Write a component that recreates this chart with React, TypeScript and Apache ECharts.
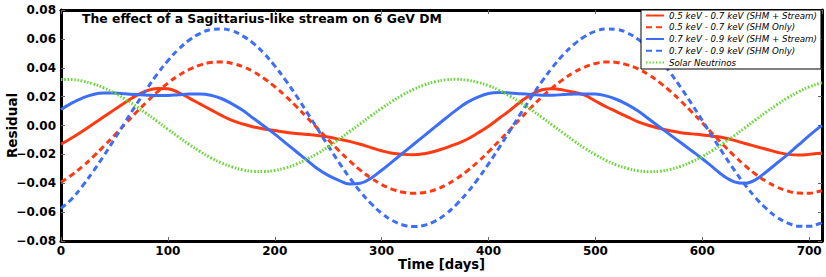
import React, { useEffect, useRef } from "react";
import * as echarts from "echarts";

const days = [0, 10, 20, 30, 40, 50, 60, 70, 80, 90, 100, 110, 120, 130, 140, 150, 160, 170, 180, 190, 200, 210, 220, 230, 240, 250, 260, 270, 280, 290, 300, 310, 320, 330, 340, 350, 360, 370, 380, 390, 400, 410, 420, 430, 440, 450, 460, 470, 480, 490, 500, 510, 520, 530, 540, 550, 560, 570, 580, 590, 600, 610, 620, 630, 640, 650, 660, 670, 680, 690, 700, 710, 712];

const lowStream = [-0.013, -0.0087, -0.004, 0.001, 0.006, 0.011, 0.016, 0.0205, 0.024, 0.0257, 0.0255, 0.0228, 0.019, 0.015, 0.011, 0.007, 0.0035, 0.001, -0.001, -0.0024, -0.0035, -0.0046, -0.0055, -0.0062, -0.007, -0.008, -0.0095, -0.011, -0.013, -0.0153, -0.0175, -0.0192, -0.02, -0.0203, -0.0195, -0.0178, -0.0155, -0.0128, -0.0095, -0.0052, -0.0005, 0.005, 0.0105, 0.0165, 0.0215, 0.0248, 0.0255, 0.0245, 0.023, 0.021, 0.017, 0.013, 0.0095, 0.006, 0.0025, 0.0, -0.002, -0.0037, -0.005, -0.0058, -0.0065, -0.0074, -0.0085, -0.0103, -0.0125, -0.0145, -0.0165, -0.0185, -0.02, -0.0205, -0.02, -0.0192, -0.019];

const lowShm = [-0.0392, -0.0343, -0.0284, -0.0217, -0.0144, -0.0068, 0.001, 0.0088, 0.0162, 0.0232, 0.0294, 0.0346, 0.0388, 0.0418, 0.0436, 0.044, 0.043, 0.0408, 0.0373, 0.0326, 0.0269, 0.0204, 0.0133, 0.0057, -0.002, -0.0099, -0.0174, -0.0245, -0.0309, -0.0364, -0.0409, -0.0442, -0.0463, -0.047, -0.0464, -0.0445, -0.0413, -0.0369, -0.0315, -0.0252, -0.0182, -0.0106, -0.0029, 0.0049, 0.0126, 0.0198, 0.0263, 0.0321, 0.0369, 0.0405, 0.0429, 0.044, 0.0437, 0.042, 0.0392, 0.0351, 0.0299, 0.0238, 0.0169, 0.0095, 0.0018, -0.006, -0.0137, -0.021, -0.0278, -0.0338, -0.0388, -0.0427, -0.0454, -0.0468, -0.0469, -0.0456, -0.0452];

const highStream = [0.011, 0.0155, 0.019, 0.0215, 0.0225, 0.0225, 0.022, 0.0214, 0.021, 0.0207, 0.0208, 0.0213, 0.0218, 0.0218, 0.021, 0.0187, 0.015, 0.0105, 0.005, -0.0005, -0.006, -0.012, -0.018, -0.024, -0.03, -0.0345, -0.038, -0.0405, -0.04, -0.0365, -0.031, -0.025, -0.019, -0.013, -0.007, -0.001, 0.005, 0.0108, 0.016, 0.0197, 0.0222, 0.0228, 0.0225, 0.022, 0.0215, 0.021, 0.021, 0.0214, 0.0218, 0.0219, 0.0218, 0.0205, 0.018, 0.0145, 0.01, 0.0045, -0.001, -0.0065, -0.012, -0.0175, -0.023, -0.029, -0.035, -0.039, -0.04, -0.0375, -0.032, -0.026, -0.02, -0.0135, -0.007, -0.001, 0.0];

const highShm = [-0.0575, -0.0509, -0.042, -0.0319, -0.021, -0.0095, 0.0023, 0.014, 0.0251, 0.0356, 0.0449, 0.0528, 0.0592, 0.0637, 0.0664, 0.0669, 0.0656, 0.0621, 0.0569, 0.0499, 0.0413, 0.0315, 0.0208, 0.0093, -0.0023, -0.0141, -0.0255, -0.0361, -0.0458, -0.054, -0.0608, -0.0658, -0.0689, -0.07, -0.0691, -0.0662, -0.0614, -0.0547, -0.0466, -0.0371, -0.0266, -0.0153, -0.0036, 0.0082, 0.0197, 0.0306, 0.0404, 0.0491, 0.0562, 0.0617, 0.0653, 0.0669, 0.0666, 0.0641, 0.0597, 0.0536, 0.0458, 0.0366, 0.0262, 0.0151, 0.0035, -0.0083, -0.0199, -0.0309, -0.0411, -0.0501, -0.0576, -0.0636, -0.0676, -0.0697, -0.0698, -0.0679, -0.0673];

const solarNu = [0.0319, 0.0318, 0.0308, 0.0289, 0.0261, 0.0225, 0.0183, 0.0135, 0.0083, 0.0029, -0.0026, -0.008, -0.0132, -0.018, -0.0223, -0.0259, -0.0287, -0.0307, -0.0318, -0.0319, -0.0311, -0.0294, -0.0268, -0.0234, -0.0194, -0.0147, -0.0096, -0.0042, 0.0012, 0.0067, 0.0119, 0.0169, 0.0213, 0.0251, 0.0281, 0.0303, 0.0316, 0.032, 0.0314, 0.0299, 0.0276, 0.0244, 0.0204, 0.0159, 0.0109, 0.0056, 0.0001, -0.0053, -0.0107, -0.0157, -0.0202, -0.0242, -0.0274, -0.0298, -0.0314, -0.032, -0.0317, -0.0304, -0.0282, -0.0252, -0.0215, -0.0171, -0.0122, -0.007, -0.0015, 0.004, 0.0094, 0.0145, 0.0192, 0.0233, 0.0267, 0.0293, 0.0297];

const seriesNames = [
  "0.5 keV - 0.7 keV (SHM + Stream)",
  "0.5 keV - 0.7 keV (SHM Only)",
  "0.7 keV - 0.9 keV (SHM + Stream)",
  "0.7 keV - 0.9 keV (SHM Only)",
  "Solar Neutrinos",
];

const titleText = "The effect of a Sagittarius-like stream on 6 GeV DM";

const RED = "#ff3a12";
const BLUE = "#3d6ef7";
const GREEN = "#62d82f";
const FONT = "DejaVu Sans";

const DASH = [6, 4];
const DOT = [1.5, 1.8];
const styles: { color: string; dash: number[] | null }[] = [
  { color: RED, dash: null },
  { color: RED, dash: DASH },
  { color: BLUE, dash: null },
  { color: BLUE, dash: DASH },
  { color: GREEN, dash: DOT },
];
const seriesValues = [lowStream, lowShm, highStream, highShm, solarNu];

const pairs = (vals: number[]) => days.map((d, i) => [d, vals[i]]);

export default function App() {
  const ref = useRef<HTMLDivElement>(null);
  useEffect(() => {
    if (!ref.current) return;
    const chart = echarts.init(ref.current, undefined, { renderer: "svg" });
    const tickStyle = { show: true, inside: true, length: 4, lineStyle: { color: "#666", width: 1 } };
    const axisLineStyle = { show: true, onZero: false, lineStyle: { color: "#000", width: 3 } };

    chart.setOption({
      animation: false,
      textStyle: { fontFamily: FONT },
      title: {
        text: titleText,
        left: 82,
        top: 12,
        padding: 0,
        textStyle: { fontFamily: FONT, fontSize: 12.4, fontWeight: "bold", color: "#000" },
      },
      legend: {
        orient: "vertical",
        left: 641,
        top: 10,
        padding: [1, 4, 2, 4],
        itemGap: 2.75,
        itemWidth: 18,
        itemHeight: 10,
        borderColor: "#000",
        borderWidth: 1,
        borderRadius: 0,
        backgroundColor: "#fff",
        itemStyle: { opacity: 0 },
        textStyle: { fontFamily: FONT, fontSize: 8.7, fontStyle: "italic", color: "#000" },
        data: seriesNames,
      },
      grid: {
        left: 61,
        right: 4,
        top: 10,
        bottom: 36,
        containLabel: false,
        outerBoundsMode: "none",
        show: false,
      },
      xAxis: [
        {
          type: "value",
          min: 0,
          max: 712,
          interval: 100,
          name: "Time [days]",
          nameLocation: "middle",
          nameGap: 16.5,
          nameMoveOverlap: false,
          nameTextStyle: { fontFamily: FONT, fontSize: 13.2, fontWeight: "bold", color: "#000", verticalAlign: "top" },
          axisLine: axisLineStyle,
          axisTick: tickStyle,
          splitLine: { show: false },
          axisLabel: { showMaxLabel: false, fontFamily: FONT, fontSize: 12, fontWeight: "bold", color: "#000", margin: 4 },
        },
        {
          type: "value",
          position: "top",
          min: 0,
          max: 712,
          interval: 100,
          axisLine: axisLineStyle,
          axisTick: tickStyle,
          splitLine: { show: false },
          axisLabel: { show: false },
        },
      ],
      yAxis: [
        {
          type: "value",
          min: -0.08,
          max: 0.08,
          interval: 0.02,
          name: "Residual",
          nameLocation: "middle",
          nameGap: 42,
          nameMoveOverlap: false,
          nameRotate: 90,
          nameTextStyle: { fontFamily: FONT, fontSize: 13.5, fontWeight: "bold", color: "#000" },
          axisLine: axisLineStyle,
          axisTick: tickStyle,
          splitLine: { show: false },
          axisLabel: {
            fontFamily: FONT,
            fontSize: 12,
            fontWeight: "bold",
            color: "#000",
            margin: 5,
            formatter: (v: number) => (v < -1e-9 ? "\u2212" : "") + Math.abs(v).toFixed(2),
          },
        },
        {
          type: "value",
          position: "right",
          min: -0.08,
          max: 0.08,
          interval: 0.02,
          axisLine: axisLineStyle,
          axisTick: tickStyle,
          splitLine: { show: false },
          axisLabel: { show: false },
        },
      ],
      series: seriesNames.map((name, i) => ({
        name,
        type: "line",
        data: pairs(seriesValues[i]),
        smooth: 0.4,
        showSymbol: false,
        symbol: "none",
        lineStyle: { color: styles[i].color, width: 3, type: styles[i].dash || "solid" },
        itemStyle: { color: styles[i].color },
        z: 3,
      })),
    });
    return () => chart.dispose();
  }, []);
  return <div ref={ref} style={{ width: 826, height: 277, position: "absolute", left: 0, top: 0 }} />;
}
